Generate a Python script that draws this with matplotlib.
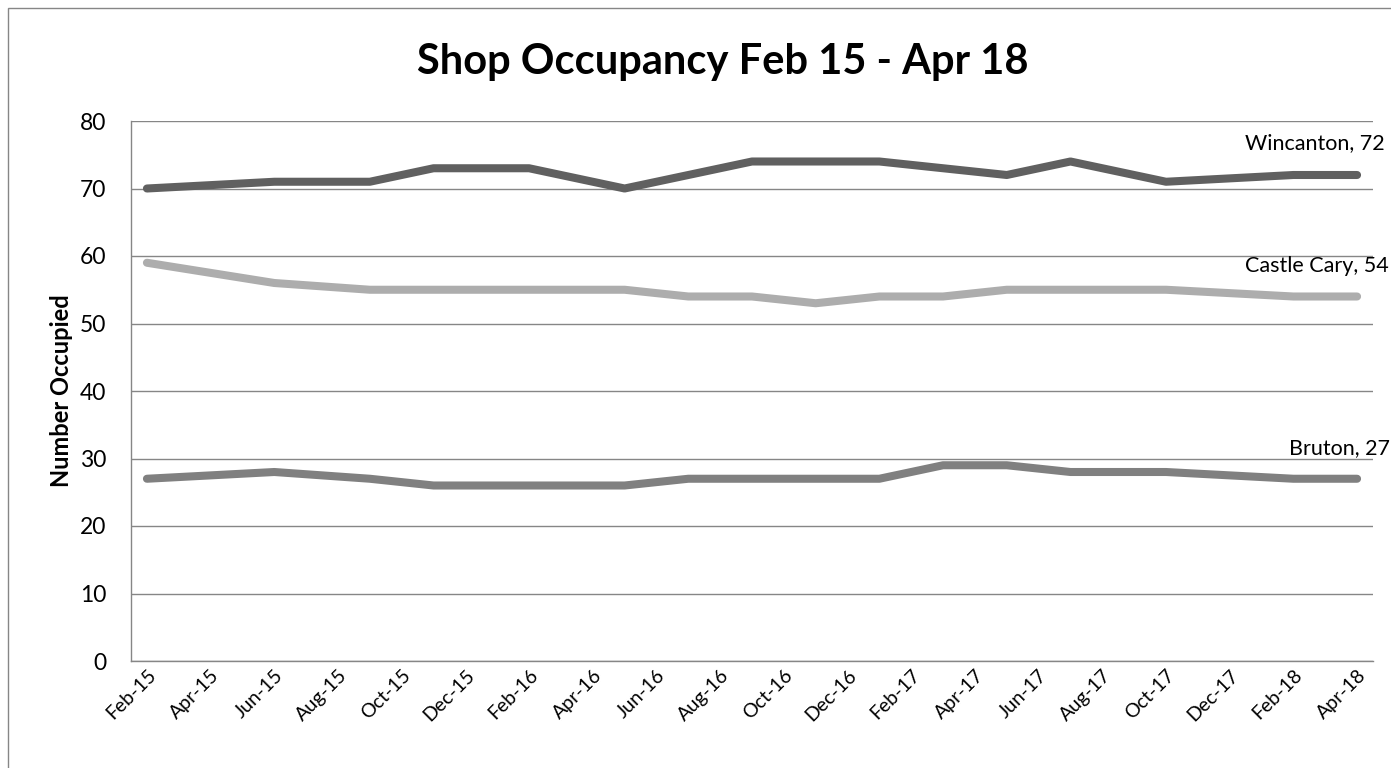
import pandas as pd
import matplotlib.pyplot as plt
import matplotlib.patches as mpatches

plt.rcParams['font.family'] = ['Lato', 'DejaVu Sans']

# Survey dates and shop counts
dates = ['Feb-15', 'Jun-15', 'Sep-15', 'Nov-15', 'Feb-16', 'May-16', 'Jul-16', 'Sep-16',
         'Nov-16', 'Jan-17', 'Mar-17', 'May-17', 'Jul-17', 'Oct-17', 'Feb-18', 'Apr-18']
wincanton = [70, 71, 71, 73, 73, 70, 72, 74, 74, 74, 73, 72, 74, 71, 72, 72]
castle_cary = [59, 56, 55, 55, 55, 55, 54, 54, 53, 54, 54, 55, 55, 55, 54, 54]
bruton = [27, 28, 27, 26, 26, 26, 27, 27, 27, 27, 29, 29, 28, 28, 27, 27]

series = [('Wincanton', wincanton, '#606060'),
          ('Castle Cary', castle_cary, '#adadad'),
          ('Bruton', bruton, '#808080')]

# month index from Feb-15 (Excel date axis with monthly base unit)
start = pd.Timestamp('2015-02-01')
end = pd.Timestamp('2018-04-01')
def month_idx(d):
    return (d.year - start.year) * 12 + d.month - start.month

x = [month_idx(pd.to_datetime(d, format='%b-%y')) for d in dates]
tick_dates = pd.date_range(start, end, freq='2MS')
n_months = month_idx(end) + 1

fig = plt.figure(figsize=(13.91, 7.68), dpi=100)
ax = fig.add_axes([131 / 1391, 1 - 661 / 768, (1373 - 131) / 1391, (661 - 121) / 768])

# chart border
fig.patches.append(mpatches.Rectangle((8 / 1391, -0.05), 1.1, 1 - 8 / 768 + 0.05,
                                      transform=fig.transFigure, fill=False,
                                      edgecolor='#868686', linewidth=1))

for name, vals, col in series:
    ax.plot(x, vals, color=col, linewidth=5.8, solid_capstyle='round',
            solid_joinstyle='round', zorder=3)

ax.set_xlim(-0.5, n_months - 0.5)
ax.set_ylim(0, 80)
ax.set_yticks(range(0, 81, 10))
ax.set_xticks([month_idx(d) for d in tick_dates])
ax.set_xticklabels(tick_dates.strftime('%b-%y'), rotation=45, ha='right',
                   rotation_mode='anchor', fontsize=14)
ax.tick_params(axis='y', labelsize=16.5, length=0, pad=18)
ax.tick_params(axis='x', length=0, pad=4)
ax.grid(axis='y', color='#868686', linewidth=1)
ax.set_axisbelow(True)
for s in ['top', 'right']:
    ax.spines[s].set_visible(False)
for s in ['left', 'bottom']:
    ax.spines[s].set_color('#868686')
    ax.spines[s].set_linewidth(1)

# end labels (sit above the last point, run off the right edge)
offsets = {'Wincanton': (-81, 23), 'Castle Cary': (-81, 22), 'Bruton': (-49, 22)}
for name, vals, col in series:
    ax.annotate('%s, %d' % (name, vals[-1]), xy=(x[-1], vals[-1]),
                xytext=offsets[name], textcoords='offset points',
                ha='left', va='center', fontsize=15.5, annotation_clip=False)

ax.set_ylabel('Number Occupied', fontsize=17, fontweight='bold', labelpad=5)
fig.suptitle('Shop Occupancy Feb 15 - Apr 18', x=(417 + 1028) / 2 / 1391,
             y=1 - 62 / 768, va='center', fontsize=30, fontweight='bold')

plt.savefig('out.png', dpi=100)
